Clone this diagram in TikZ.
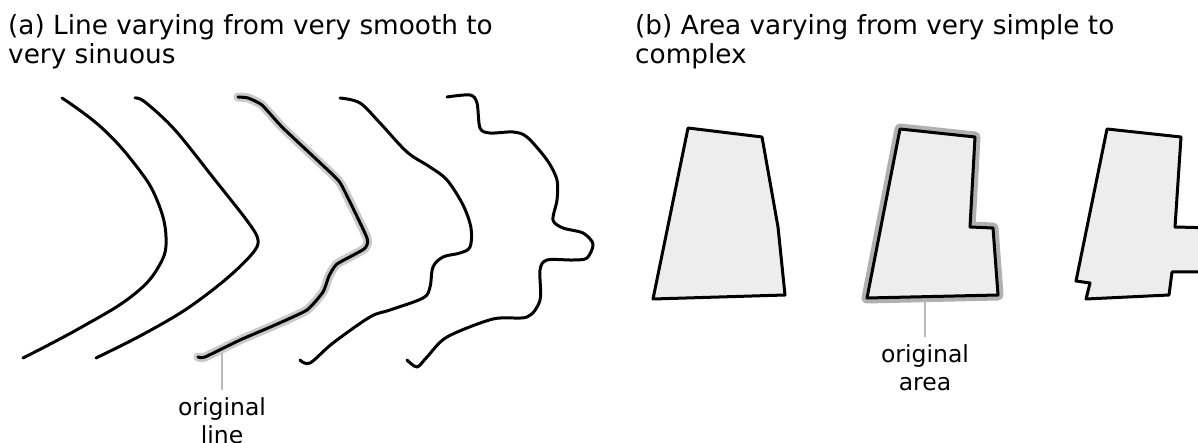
\documentclass[tikz,border=0pt]{standalone}
\usepackage{fontspec}
\setmainfont{DejaVu Sans}
\definecolor{areafill}{HTML}{EDEDED}
\definecolor{halogrey}{HTML}{CACACA}
\definecolor{polyhalo}{HTML}{B0B0B0}
\definecolor{leadergrey}{HTML}{BBBBBB}
\tikzset{
  curve/.style={draw=black, line width=3pt, line cap=round, line join=round},
  halo/.style={draw=halogrey, line width=9pt, line cap=round, line join=round},
  polyhalo/.style={draw=polyhalo, line width=11pt, line join=round},
  area/.style={fill=areafill, draw=black, line width=3pt, line join=round},
  leader/.style={draw=leadergrey, line width=1.6pt},
  title/.style={anchor=north west, align=left, inner sep=0pt, font=\fontsize{26.3}{29}\selectfont},
  lbl/.style={anchor=north, align=center, inner xsep=0pt, inner ysep=7.5pt, font=\fontsize{23.5}{28}\selectfont}
}
\begin{document}
\begin{tikzpicture}[x=1pt,y=-1pt]
\useasboundingbox (0,0) rectangle (1198,443);
\clip (0,0) rectangle (1198,443);

% titles
\node[title] (ta) at (8,14) {(a) Line varying from very smooth to\\very sinuous};
\node[title] (tb) at (635,14) {(b) Area varying from very simple to\\complex};

% line 1 (very smooth)
\draw[curve] plot[smooth, tension=0.7] coordinates {(62,98) (102,128) (137,167) (157,200) (166,237) (159,266) (132,296) (80,328) (23,358)};

% line 2
\draw[curve] plot[smooth, tension=0.55] coordinates {(135,98) (145,102) (175,130) (215,180) (248,222) (258,240) (252,254) (225,280) (185,310) (140,336) (96,358)};

% line 3 (original)
\def\origline{(198,357) (205,357) (240,340) (275,325) (307,310) (323,292) (329,276) (337,264) (364,249) (367,238) (342,186) (333,175) (283,128) (262,105) (248,98) (238,97)}
\draw[halo] plot[smooth, tension=0.3] coordinates {\origline};
\draw[curve] plot[smooth, tension=0.3] coordinates {\origline};
\coordinate (lineend) at (222,353);

% line 4
\draw[curve] plot[smooth, tension=0.55] coordinates {(340,98) (360,103) (380,123) (407,152) (430,167) (447,180) (463,205) (471,228) (470,247) (460,253) (443,257) (433,267) (430,287) (423,298) (390,310) (370,317) (333,343) (310,363) (300,360)};

% line 5 (very sinuous)
\draw[curve] plot[smooth, tension=0.5] coordinates {(447,97) (470,95) (477,103) (480,128) (490,133) (513,132) (527,137) (547,160) (557,180) (557,200) (553,220) (563,228) (583,233) (593,244) (587,258) (573,260) (547,260) (540,270) (540,300) (527,317) (493,319) (447,337) (427,357) (417,367) (407,360)};

% label for original line
\node[lbl] (linelbl) at (222,390) {original\\line};
\draw[leader] (lineend) -- (linelbl.north);

% polygon 1
\draw[area] (688,128) -- (762,137) -- (778,227) -- (785,295) -- (653,299) -- cycle;

% polygon 2 (original)
\draw[polyhalo] (900,129) -- (975,137) -- (970,227) -- (993,228) -- (998,295) -- (867,298) -- cycle;
\draw[area] (900,129) -- (975,137) -- (970,227) -- (993,228) -- (998,295) -- (867,298) -- cycle;
\coordinate (areaend) at (925,302);

% polygon 3
\draw[area] (1107,129) -- (1181,137) -- (1175,227) -- (1215,228) -- (1215,272) -- (1172,272) -- (1169,295) -- (1086,299) -- (1090,283) -- (1076,281) -- cycle;

% label for original area
\node[lbl] (arealbl) at (925,337) {original\\area};
\draw[leader] (areaend) -- (arealbl.north);
\end{tikzpicture}
\end{document}
